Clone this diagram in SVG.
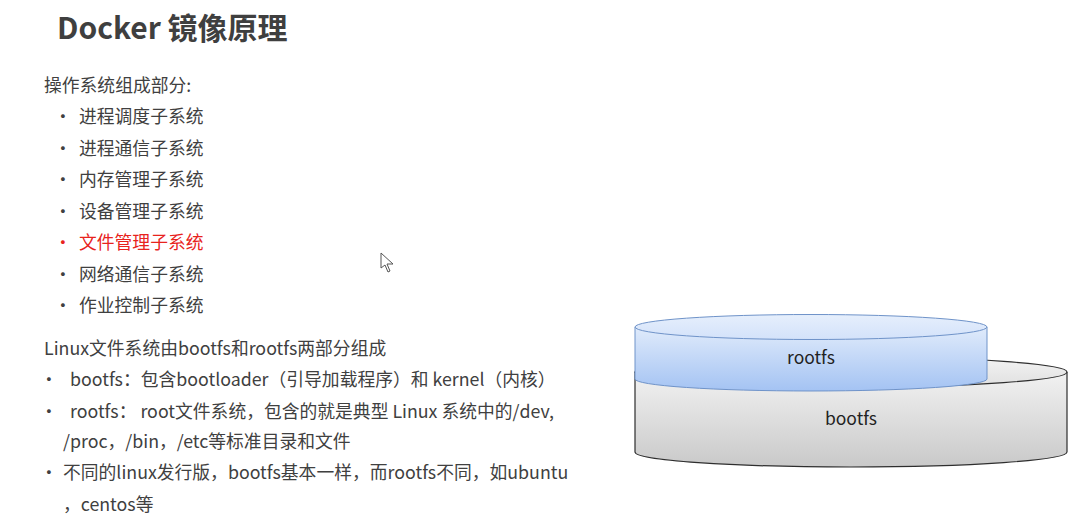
<svg xmlns="http://www.w3.org/2000/svg" width="1074" height="518" viewBox="0 0 1074 518">
<style>
text{font-family:"Noto Sans CJK SC","Open Sans",sans-serif;fill:#404040;}
.t{font-size:30px;font-weight:bold;fill:#3f3f3f;}
.b{font-size:17.8px;}
.r{fill:#e8231d;}
.lbl{font-size:17.5px;fill:#222;text-anchor:middle;}
</style>
<defs>
<linearGradient id="gBlue" x1="0" y1="0" x2="0" y2="1">
<stop offset="0" stop-color="#e0ebfb"/>
<stop offset="1" stop-color="#a4c3f3"/>
</linearGradient>
<linearGradient id="gBlueTop" x1="0" y1="0" x2="0" y2="1">
<stop offset="0" stop-color="#e6effc"/>
<stop offset="1" stop-color="#d3e2fa"/>
</linearGradient>
<linearGradient id="gGray" x1="0" y1="0" x2="0" y2="1">
<stop offset="0" stop-color="#f2f2f2"/>
<stop offset="1" stop-color="#c9c9c9"/>
</linearGradient>
<linearGradient id="gGrayTop" x1="0" y1="0" x2="0" y2="1">
<stop offset="0" stop-color="#f3f3f3"/>
<stop offset="1" stop-color="#e0e0e0"/>
</linearGradient>
</defs>
<rect width="1074" height="518" fill="#fff"/>
<text class="t" x="57" y="39">Docker 镜像原理</text>
<text class="b" x="44" y="92">操作系统组成部分:</text>
<g id="list1">
<text class="b" x="54" y="123">•</text><text class="b" x="79" y="123">进程调度子系统</text>
<text class="b" x="54" y="155">•</text><text class="b" x="79" y="155">进程通信子系统</text>
<text class="b" x="54" y="186">•</text><text class="b" x="79" y="186">内存管理子系统</text>
<text class="b" x="54" y="218">•</text><text class="b" x="79" y="218">设备管理子系统</text>
<text class="b r" x="54" y="249">•</text><text class="b r" x="79" y="249">文件管理子系统</text>
<text class="b" x="54" y="281">•</text><text class="b" x="79" y="281">网络通信子系统</text>
<text class="b" x="54" y="312">•</text><text class="b" x="79" y="312">作业控制子系统</text>
</g>
<g id="list2">
<text class="b" x="44" y="355">Linux文件系统由bootfs和rootfs两部分组成</text>
<text class="b" x="40" y="386">•</text><text class="b" x="70" y="386">bootfs：包含bootloader（引导加载程序）和 kernel（内核）</text>
<text class="b" x="40" y="418">•</text><text class="b" x="70" y="418">rootfs： root文件系统，包含的就是典型 Linux 系统中的/dev,</text>
<text class="b" x="63" y="448">/proc，/bin，/etc等标准目录和文件</text>
<text class="b" x="40" y="479">•</text><text class="b" x="63" y="479">不同的linux发行版，bootfs基本一样，而rootfs不同，如ubuntu</text>
<text class="b" x="63" y="511">，centos等</text>
</g>
<g id="bootfs">
<path d="M635 372 L635 452 A216 15 0 0 0 1067 452 L1067 372" fill="url(#gGray)" stroke="#2e2e2e" stroke-width="1.2"/>
<ellipse cx="851" cy="372" rx="216" ry="15" fill="url(#gGrayTop)" stroke="#2e2e2e" stroke-width="1.2"/>
<text class="lbl" x="851" y="425">bootfs</text>
</g>
<g id="rootfs">
<path d="M635 327 L635 379 A176 12 0 0 0 987 379 L987 327" fill="url(#gBlue)" stroke="#6f93c9" stroke-width="1"/>
<ellipse cx="811" cy="327" rx="176" ry="12.5" fill="url(#gBlueTop)" stroke="#6f93c9" stroke-width="1"/>
<text class="lbl" x="811" y="364">rootfs</text>
</g>
<polygon points="381,253 381,268 385,265 388,272 390,271 387,264 393,264" fill="#fff" stroke="#555" stroke-width="1"/>
</svg>
